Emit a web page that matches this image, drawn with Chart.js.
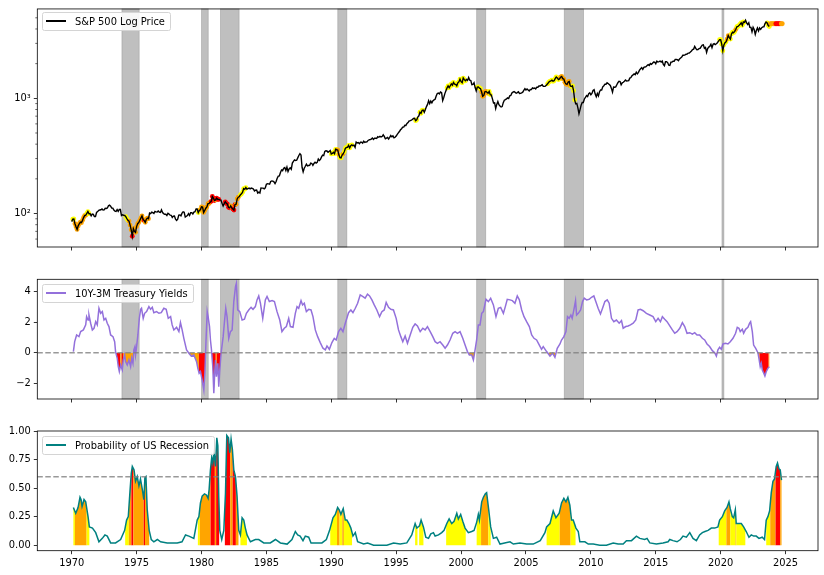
<!DOCTYPE html>
<html>
<head>
<meta charset="utf-8">
<script src="https://cdn.jsdelivr.net/npm/chart.js@4"></script>
<style>
body { margin: 0; background: #fff; width: 824px; height: 575px; position: relative; overflow: hidden; font-family: "DejaVu Sans", sans-serif; }
canvas { position: absolute; left: 0; }
.leg { position: absolute; left: 42px; height: 18.5px; box-sizing: border-box; border: 1px solid #d4d4d4; border-radius: 2.5px;
       background: rgba(255,255,255,0.85); display: flex; align-items: center; padding: 0 5px 0 3px; font-size: 9.9px; white-space: nowrap; color: #000; }
.leg i { display: inline-block; width: 20px; height: 0; border-top: 2px solid; margin-right: 9px; }
</style>
</head>
<body>
<canvas id="c1" width="824" height="262" style="top:0"></canvas>
<canvas id="c2" width="824" height="140" style="top:270px"></canvas>
<canvas id="c3" width="824" height="155" style="top:420px"></canvas>
<div class="leg" style="top:12px"><i style="border-color:#000"></i>S&amp;P 500 Log Price</div>
<div class="leg" style="top:284px"><i style="border-color:#9370db"></i>10Y-3M Treasury Yields</div>
<div class="leg" style="top:436px"><i style="border-color:#008080"></i>Probability of US Recession</div>
<script>
// S&P 500 month-end closes, Jan 1970 .. Oct 2023 (one per month)
const spxClose = [
85.0,89.5,89.6,81.5,76.6,72.7,78.1,81.5,84.2,83.3,87.2,92.2,
95.9,96.8,100.3,104.0,99.6,99.7,95.6,99.0,98.3,94.2,94.0,102.1,
103.9,106.6,107.2,107.7,109.5,107.1,107.4,111.1,110.6,111.6,116.7,118.1,
116.0,111.7,111.5,107.0,105.0,104.3,108.2,104.3,108.4,108.3,96.0,97.6,
96.6,96.2,94.0,90.3,87.3,86.0,79.3,72.2,63.5,73.9,70.0,68.6,
77.0,81.6,83.4,87.3,91.2,95.2,88.8,86.9,83.9,89.0,91.2,90.2,
100.9,99.7,102.8,101.6,100.2,104.3,103.4,102.9,105.2,102.9,102.1,107.5,
102.0,99.8,98.4,98.4,96.1,100.5,98.9,96.8,96.5,92.3,94.8,95.1,
89.3,87.0,89.2,96.8,97.2,95.5,100.7,103.3,102.5,93.2,94.7,96.1,
99.9,96.3,101.6,101.8,99.1,102.9,103.8,109.3,109.3,101.8,106.2,107.9,
114.2,113.7,102.1,106.3,111.2,114.2,121.7,122.4,125.5,127.5,140.5,135.8,
129.6,131.3,136.0,132.8,132.6,131.2,130.9,122.8,116.2,121.9,126.4,122.6,
120.4,113.1,112.0,116.4,111.9,109.6,107.1,119.5,120.4,133.7,138.5,140.6,
145.3,148.1,153.0,164.4,162.4,168.1,162.6,164.4,166.1,163.6,166.4,164.9,
163.4,157.1,159.2,160.1,150.6,153.2,150.7,166.7,166.1,166.1,163.6,167.2,
179.6,181.2,180.7,179.8,189.6,191.9,190.9,188.6,182.1,189.8,202.2,211.3,
211.8,226.9,238.9,235.5,247.4,250.8,236.1,252.9,231.3,244.0,249.2,242.2,
274,284,292,288,290,304,319,330,322,252,230,247,
257,268,259,261,262,274,272,262,272,279,274,278,
297,289,295,310,321,318,346,351,349,340,346,353,
329,332,340,331,361,358,356,323,306,304,322,330,
344,367,375,375,390,371,388,395,388,392,375,417,
409,413,404,415,415,408,424,414,418,419,431,436,
439,443,452,440,450,451,448,464,459,468,462,466,
482,467,446,451,457,444,458,475,463,472,454,459,
470,487,501,515,533,545,562,562,584,582,605,616,
636,640,646,654,669,671,640,652,687,705,757,741,
786,791,757,801,848,885,954,899,947,915,955,970,
980,1049,1102,1112,1091,1134,1121,957,1017,1099,1164,1229,
1280,1238,1286,1335,1302,1373,1329,1320,1283,1363,1389,1469,
1394,1366,1499,1452,1421,1455,1431,1518,1437,1429,1315,1320,
1366,1240,1160,1249,1256,1224,1211,1134,1041,1060,1139,1148,
1130,1107,1147,1077,1067,990,912,916,815,886,936,880,
856,841,848,917,964,975,990,1008,996,1051,1058,1112,
1131,1145,1126,1107,1121,1141,1102,1104,1115,1130,1174,1212,
1181,1204,1181,1157,1192,1191,1234,1220,1229,1207,1249,1248,
1280,1281,1295,1311,1270,1270,1277,1304,1336,1378,1401,1418,
1438,1407,1421,1482,1531,1503,1455,1474,1527,1549,1481,1468,
1379,1331,1323,1386,1400,1280,1267,1283,1166,969,896,903,
826,735,798,873,919,919,987,1021,1057,1036,1096,1115,
1074,1104,1169,1187,1089,1031,1102,1049,1141,1183,1181,1258,
1286,1327,1326,1364,1345,1321,1292,1219,1131,1253,1247,1258,
1312,1366,1408,1398,1310,1362,1379,1407,1441,1412,1416,1426,
1498,1515,1569,1598,1631,1606,1686,1633,1682,1757,1806,1848,
1783,1859,1872,1884,1924,1960,1931,2003,1972,2018,2068,2059,
1995,2105,2068,2086,2107,2063,2104,1972,1920,2079,2080,2044,
1940,1932,2060,2065,2097,2099,2174,2171,2168,2126,2199,2239,
2279,2364,2363,2384,2412,2423,2470,2472,2519,2575,2648,2674,
2824,2714,2641,2648,2705,2718,2816,2902,2914,2712,2760,2507,
2704,2784,2834,2946,2752,2942,2980,2926,2977,3038,3141,3231,
3226,2954,2585,2912,3044,3100,3271,3500,3363,3270,3622,3756,
3714,3811,3973,4181,4204,4298,4395,4523,4308,4605,4567,4766,
4516,4374,4530,4132,4132,3785,4130,3955,3586,3872,4080,3840,
4077,3970,4109,4169,4180,4450,4589,4508,4288,4194
];
const spxFirstYear = 1970;

// marker tail after the last close (flat level)
const tailYear = [2023.83,2023.92,2024.0,2024.08,2024.17,2024.25,2024.33,2024.42,2024.5,2024.58,2024.67,2024.75];
const tailPrice = [4440,4440,4440,4440,4440,4440,4440,4440,4440,4440,4440,4440];

// NBER recessions
const recStart = [1973.87, 1980.0, 1981.46, 1990.5, 2001.2, 2007.95, 2020.1];
const recEnd   = [1975.2, 1980.52, 1982.9, 1991.2, 2001.9, 2009.44, 2020.25];

// 10Y-3M spread
const spreadYear = [
1970.13,1970.23,1970.38,1970.56,1970.69,1970.9,1971.08,1971.15,1971.26,1971.33,1971.46,1971.59,1971.72,1971.85,1971.97,
1972.1,1972.23,1972.36,1972.49,1972.62,1972.74,1972.87,1973.0,1973.18,1973.31,1973.38,1973.51,1973.59,1973.67,1973.77,
1973.9,1973.97,1974.08,1974.15,1974.28,1974.41,1974.54,1974.62,1974.72,1974.79,1974.87,1974.92,1975.0,1975.1,1975.21,
1975.31,1975.38,1975.51,1975.62,1975.77,1975.95,1976.08,1976.21,1976.33,1976.54,1976.72,1976.9,1977.1,1977.28,1977.44,
1977.62,1977.74,1977.87,1978.08,1978.26,1978.38,1978.51,1978.64,1978.85,1979.03,1979.21,1979.41,1979.62,1979.72,1979.82,
1979.92,1980.05,1980.18,1980.26,1980.36,1980.44,1980.51,1980.62,1980.69,1980.77,1980.87,1980.95,1981.03,1981.08,1981.15,
1981.26,1981.33,1981.41,1981.51,1981.67,1981.77,1981.87,1981.97,1982.1,1982.23,1982.36,1982.49,1982.62,1982.69,1982.79,
1982.95,1983.13,1983.31,1983.46,1983.64,1983.82,1983.97,1984.15,1984.28,1984.41,1984.54,1984.72,1984.92,1985.05,1985.23,
1985.44,1985.62,1985.82,1986.03,1986.2,1986.38,1986.54,1986.72,1986.85,1987.05,1987.23,1987.36,1987.49,1987.67,1987.79,
1987.92,1988.08,1988.26,1988.44,1988.59,1988.77,1988.95,1989.15,1989.36,1989.54,1989.67,1989.85,1990.05,1990.23,1990.38,
1990.56,1990.74,1990.9,1991.08,1991.33,1991.51,1991.67,1991.85,1992.03,1992.23,1992.44,1992.61,1992.79,1992.95,1993.13,
1993.31,1993.51,1993.72,1993.9,1994.08,1994.23,1994.41,1994.59,1994.79,1995.0,1995.18,1995.36,1995.51,1995.69,1995.87,
1996.08,1996.28,1996.46,1996.64,1996.85,1997.05,1997.23,1997.41,1997.62,1997.82,1998.0,1998.18,1998.38,1998.59,1998.77,
1998.95,1999.15,1999.36,1999.54,1999.72,1999.92,2000.13,2000.31,2000.49,2000.64,2000.82,2000.95,2001.08,2001.2,2001.33,
2001.46,2001.59,2001.72,2001.92,2002.1,2002.28,2002.49,2002.69,2002.87,2003.05,2003.26,2003.41,2003.56,2003.77,2003.95,
2004.15,2004.33,2004.49,2004.67,2004.85,2005.05,2005.26,2005.44,2005.62,2005.82,2006.03,2006.2,2006.33,2006.59,2006.85,
2007.05,2007.23,2007.41,2007.62,2007.74,2007.92,2008.08,2008.2,2008.33,2008.46,2008.56,2008.69,2008.82,2008.9,2009.03,
2009.21,2009.36,2009.49,2009.67,2009.87,2010.05,2010.23,2010.38,2010.56,2010.74,2010.9,2011.08,2011.26,2011.41,2011.59,
2011.77,2011.97,2012.18,2012.36,2012.49,2012.69,2012.87,2013.05,2013.26,2013.46,2013.64,2013.82,2014.03,2014.28,2014.54,
2014.79,2015.0,2015.18,2015.36,2015.51,2015.69,2015.87,2016.08,2016.28,2016.46,2016.64,2016.85,2017.05,2017.23,2017.41,
2017.62,2017.82,2018.0,2018.18,2018.38,2018.59,2018.77,2018.95,2019.15,2019.36,2019.54,2019.67,2019.79,2019.92,2020.05,
2020.18,2020.38,2020.56,2020.74,2020.95,2021.15,2021.28,2021.41,2021.51,2021.67,2021.77,2021.92,2022.1,2022.23,2022.31,
2022.44,2022.54,2022.69,2022.87,2022.95,2023.05,2023.13,2023.21,2023.33,2023.41,2023.51,2023.64,2023.75
];
const spreadValue = [
0.07,0.72,1.16,1.05,1.38,1.49,1.82,2.36,2.14,2.47,1.93,1.49,1.6,2.03,1.82,
2.91,2.58,2.69,2.14,2.25,1.93,1.71,1.16,1.05,0.72,0.07,-0.37,-0.91,-1.24,-0.81,
-1.13,-0.48,-0.15,-0.59,-0.81,-0.48,-0.91,-0.37,-0.7,0.18,0.39,-0.15,0.39,1.16,2.25,
2.84,2.91,2.25,2.58,2.69,3.02,2.84,2.97,2.62,2.69,2.58,2.62,2.91,2.84,2.25,
2.36,1.82,1.49,1.66,1.38,1.97,1.49,0.94,0.18,-0.04,-0.22,-0.15,-0.59,-1.03,-1.35,
-1.24,-1.79,-2.45,-1.35,1.05,2.69,2.36,1.71,0.83,0.18,-0.91,-2.66,-1.13,-0.48,-1.57,
-0.7,-2.23,-1.13,-0.04,1.05,2.03,2.91,2.36,0.94,1.38,1.49,3.35,4.33,4.55,2.8,
2.69,2.14,2.19,2.58,2.8,2.97,2.84,3.02,3.46,3.72,3.24,2.25,3.46,3.68,3.35,
3.41,3.35,2.69,2.14,1.38,1.6,1.71,2.25,1.71,1.66,2.58,3.02,2.91,3.41,3.13,
3.24,2.69,2.84,2.8,2.36,1.49,1.05,0.66,0.29,0.18,0.44,0.22,0.66,0.94,0.83,
1.38,1.6,1.38,1.93,2.62,2.8,2.62,2.91,3.24,3.79,3.68,3.57,3.83,3.72,3.46,
3.13,2.8,2.36,2.69,2.8,3.29,2.97,2.84,2.8,2.25,1.49,1.05,0.72,1.09,0.61,
1.16,1.66,1.88,1.75,1.38,1.6,1.49,1.71,1.38,1.05,0.72,0.61,0.72,0.5,0.29,
0.5,0.83,1.27,1.38,1.27,1.38,0.94,0.5,0.07,-0.15,-0.15,-0.48,0.18,0.83,1.82,
1.82,2.58,2.69,3.5,3.35,3.57,3.13,2.36,2.91,2.97,2.58,3.02,3.5,3.46,3.41,
3.24,3.72,3.46,2.8,2.36,2.03,1.71,1.16,0.94,0.83,0.5,0.22,0.4,0.07,-0.22,
-0.04,-0.31,0.29,0.57,0.83,1.05,1.38,2.36,2.25,2.47,2.25,2.8,3.41,2.47,2.58,
2.8,3.35,3.57,3.46,3.5,3.63,3.72,3.35,2.91,2.54,2.91,3.35,3.46,3.24,2.25,
2.03,2.14,1.93,2.1,1.6,1.71,1.75,1.82,1.93,2.14,2.8,2.84,2.75,2.58,2.47,
2.36,2.03,2.25,2.03,2.36,2.19,2.03,1.75,1.49,1.27,1.38,1.6,1.97,1.71,1.27,
1.31,1.22,1.31,1.16,1.16,0.94,0.83,0.57,0.4,0.13,0.0,-0.22,0.18,0.35,0.22,
0.57,0.61,0.57,0.72,0.94,1.27,1.66,1.6,1.38,1.53,1.27,1.53,1.66,1.93,2.03,
1.38,0.5,0.29,0.0,-0.37,-0.92,-0.7,-1.14,-1.36,-1.53,-1.25,-1.03,-0.92
];

// Recession probability
const probYear = [
1970.13,1970.31,1970.49,1970.64,1970.72,1970.8,1970.95,1971.08,1971.26,1971.36,1971.6,1971.85,1972.1,1972.36,1972.56,
1972.74,1973.0,1973.38,1973.77,1974.08,1974.23,1974.36,1974.49,1974.59,1974.67,1974.8,1974.92,1975.05,1975.18,1975.3,
1975.44,1975.56,1975.64,1975.72,1975.82,1975.97,1976.13,1976.33,1976.6,1976.85,1977.36,1978.13,1978.5,1978.77,1979.03,
1979.41,1979.67,1979.8,1979.92,1980.05,1980.23,1980.38,1980.51,1980.59,1980.69,1980.79,1980.87,1980.97,1981.08,1981.18,
1981.26,1981.33,1981.41,1981.56,1981.72,1981.85,1981.95,1982.08,1982.18,1982.28,1982.38,1982.49,1982.62,1982.74,1982.87,
1983.0,1983.13,1983.26,1983.38,1983.51,1983.77,1984.15,1984.41,1984.8,1985.3,1985.7,1986.08,1986.6,1986.97,1987.23,
1987.41,1987.6,1987.82,1988.0,1988.26,1988.44,1988.9,1989.28,1989.62,1989.87,1990.13,1990.31,1990.49,1990.61,1990.74,
1990.92,1991.08,1991.2,1991.36,1991.51,1991.67,1991.85,1992.03,1992.49,1992.8,1993.26,1994.28,1994.8,1995.31,1995.82,
1996.2,1996.46,1996.59,1996.8,1996.92,1997.1,1997.28,1997.49,1997.67,1997.87,1998.0,1998.26,1998.51,1998.69,1998.9,
1999.08,1999.28,1999.46,1999.67,1999.79,1999.97,2000.13,2000.31,2000.56,2000.82,2001.0,2001.2,2001.33,2001.41,2001.59,
2001.72,2001.87,2001.97,2002.13,2002.28,2002.49,2002.74,2003.0,2003.77,2004.03,2004.54,2005.05,2005.56,2006.1,2006.46,
2006.59,2006.85,2007.1,2007.31,2007.56,2007.74,2007.92,2008.08,2008.23,2008.38,2008.51,2008.64,2008.85,2009.03,2009.15,
2009.54,2009.8,2010.18,2010.69,2011.2,2011.72,2012.1,2012.49,2012.74,2013.13,2013.51,2013.77,2014.15,2014.33,2014.54,
2015.05,2015.56,2015.95,2016.08,2016.33,2016.64,2016.9,2017.1,2017.36,2017.62,2017.87,2018.13,2018.38,2018.59,2018.79,
2019.03,2019.28,2019.54,2019.79,2019.92,2020.13,2020.31,2020.49,2020.64,2020.74,2020.9,2021.0,2021.13,2021.2,2021.41,
2021.59,2021.77,2021.97,2022.18,2022.36,2022.54,2022.74,2022.95,2023.2,2023.38,2023.51,2023.64,2023.77,2023.9,2024.03,
2024.15,2024.28,2024.38,2024.49,2024.59,2024.69
];
const probValue = [
0.33,0.28,0.33,0.42,0.40,0.34,0.40,0.38,0.25,0.16,0.15,0.11,0.03,0.06,0.09,
0.08,0.02,0.02,0.05,0.13,0.22,0.25,0.47,0.63,0.69,0.66,0.56,0.60,0.52,0.58,
0.49,0.40,0.59,0.60,0.31,0.13,0.05,0.03,0.05,0.03,0.02,0.02,0.03,0.09,0.08,
0.06,0.22,0.25,0.37,0.43,0.45,0.44,0.41,0.49,0.66,0.77,0.72,0.81,0.69,0.94,
0.87,0.43,0.13,0.05,0.13,0.46,0.96,0.94,0.81,0.93,0.84,0.66,0.60,0.43,0.13,
0.09,0.24,0.22,0.15,0.09,0.03,0.05,0.05,0.02,0.02,0.05,0.02,0.01,0.05,0.12,
0.09,0.08,0.04,0.08,0.07,0.02,0.02,0.02,0.05,0.13,0.24,0.27,0.33,0.31,0.27,
0.32,0.22,0.22,0.19,0.15,0.08,0.11,0.03,0.01,0.02,0.00,0.00,0.02,0.01,0.02,
0.09,0.19,0.15,0.17,0.22,0.16,0.07,0.06,0.10,0.11,0.08,0.09,0.11,0.13,0.19,
0.23,0.19,0.21,0.28,0.23,0.27,0.21,0.15,0.11,0.12,0.13,0.20,0.27,0.22,0.38,
0.42,0.45,0.46,0.31,0.16,0.06,0.07,0.01,0.03,0.01,0.02,0.01,0.01,0.04,0.11,
0.16,0.19,0.30,0.24,0.28,0.37,0.41,0.38,0.42,0.35,0.22,0.22,0.15,0.12,0.03,
0.03,0.01,0.01,0.00,0.00,0.02,0.01,0.01,0.04,0.04,0.08,0.06,0.05,0.06,0.02,
0.01,0.02,0.03,0.05,0.04,0.03,0.05,0.08,0.07,0.11,0.06,0.04,0.09,0.11,0.12,
0.13,0.15,0.15,0.16,0.22,0.25,0.30,0.33,0.38,0.32,0.25,0.24,0.31,0.19,0.19,
0.19,0.16,0.12,0.07,0.09,0.08,0.08,0.06,0.07,0.05,0.22,0.25,0.30,0.46,0.56,
0.58,0.69,0.72,0.67,0.66,0.57
];

// signal colour periods (1 yellow, 2 orange, 3 red) used for the price markers and probability fill
const sigStart = [1970.05,1970.25,1971.15, 1974.12,1974.4,1974.6,1974.75,1975.55,1975.65, 1979.72,1979.87,1980.7,1981.03,1981.13,
                  1981.8,1982.22,1982.4,1982.65, 1983.0, 1989.92,1990.44,1990.64,1990.85,1990.97, 1996.46,1996.77, 1998.85,
                  2001.2,2001.54,2002.1, 2006.59,2007.6,2008.44, 2019.85,2020.44,2020.74,2021.15,2021.2, 2023.51,2023.82,2024.23,2024.59];
const sigEnd   = [1970.25,1971.15,1971.36, 1974.4,1974.6,1974.75,1975.55,1975.65,1975.97, 1979.87,1980.7,1981.03,1981.13,1981.36,
                  1982.22,1982.4,1982.65,1982.85, 1983.5, 1990.44,1990.64,1990.85,1990.97,1991.6, 1996.64,1997.1, 2000.36,
                  2001.54,2002.1,2002.28, 2007.6,2008.44,2008.82, 2020.44,2020.74,2021.15,2021.2,2021.9, 2023.82,2024.23,2024.59,2024.8];
const sigLevel = [1,2,1, 1,2,3,2,3,2, 1,2,3,2,3, 3,2,3,2, 1, 1,2,1,2,1, 1,1, 1, 1,2,1, 1,2,1, 1,2,1,2,1, 1,2,3,2];

// inversion colour periods for the spread fill
const invStart = [1973.4,1973.75,1973.85,1973.97, 1978.95,1979.8, 1980.8,1981.1,1981.18, 2000.5, 2006.6, 2019.6, 2022.85,2023.0,2023.7];
const invEnd   = [1973.75,1973.85,1973.97,1974.95, 1979.8,1980.3, 1981.1,1981.18,1981.55, 2001.05, 2007.4, 2019.75, 2023.0,2023.7,2023.85];
const invLevel = [3,2,3,2, 2,3, 3,2,3, 2, 2, 2, 2,3,2];

const xTicks = [1970,1975,1980,1985,1990,1995,2000,2005,2010,2015,2020,2025];
const priceTicks = [100, 1000];
const priceMinor = [60,70,80,90,200,300,400,500,600,700,800,900,2000,3000,4000,5000];
const spreadTicks = [-2, 0, 2, 4];
const probTicks = [0, 0.25, 0.5, 0.75, 1.0];

const levelColor = [null, '#ffff00', '#ffa500', '#ff0000'];
const X_MIN = 1967.35, X_MAX = 2027.5;

Chart.defaults.font.family = '"DejaVu Sans"';
Chart.defaults.font.size = 9.9;
Chart.defaults.color = '#000';
Chart.defaults.animation = false;

function levelAt(t) {
    for (let i = 0; i < sigStart.length; i++) {
        if (t >= sigStart[i] && t < sigEnd[i]) return sigLevel[i];
    }
    return 0;
}

const spxPts = spxClose.map((v, i) => ({x: spxFirstYear + i / 12, y: v}));
const markerPts = [], markerCols = [];
spxPts.forEach(p => {
    const l = levelAt(p.x);
    if (l) { markerPts.push(p); markerCols.push(levelColor[l]); }
});
tailYear.forEach((t, i) => {
    const l = levelAt(t) || 3;
    markerPts.push({x: t, y: tailPrice[i]});
    markerCols.push(levelColor[l]);
});

function xAxis(showLabels, h) {
    return {
        type: 'linear', min: X_MIN, max: X_MAX,
        border: {display: false},
        grid: {drawOnChartArea: false, tickLength: 3.5, color: '#000', tickWidth: 0.8},
        ticks: {display: showLabels, padding: 3, maxRotation: 0, autoSkip: false, callback: v => String(v)},
        afterBuildTicks: s => { s.ticks = xTicks.map(v => ({value: v})); },
        afterFit: s => { s.height = h; }
    };
}

function yAxis(extra, ticks, fmt) {
    return Object.assign({
        border: {display: false},
        grid: {drawOnChartArea: false, tickLength: 3.5, color: '#000', tickWidth: 0.8},
        ticks: {padding: 3, autoSkip: false, callback: fmt},
        afterBuildTicks: s => { s.ticks = ticks.map(v => ({value: v})); },
        afterFit: s => { s.width = 37.3; }
    }, extra);
}

const frame = {
    id: 'frame',
    afterDraw(chart) {
        const {ctx, chartArea: a} = chart;
        ctx.save();
        ctx.strokeStyle = '#000';
        ctx.lineWidth = 0.8;
        ctx.strokeRect(a.left, a.top, a.right - a.left, a.bottom - a.top);
        ctx.restore();
    }
};

const recessionShade = {
    id: 'recessionShade',
    beforeDatasetsDraw(chart) {
        const {ctx, chartArea: a, scales: {x}} = chart;
        ctx.save();
        ctx.fillStyle = 'rgba(128,128,128,0.5)';
        ctx.strokeStyle = 'rgba(128,128,128,0.45)';
        ctx.lineWidth = 0.8;
        recStart.forEach((s, i) => {
            const l = x.getPixelForValue(s), r = x.getPixelForValue(recEnd[i]);
            ctx.fillRect(l, a.top, r - l, a.bottom - a.top);
            ctx.strokeRect(l, a.top, r - l, a.bottom - a.top);
        });
        ctx.restore();
    }
};

function bandFill(xs, ys, starts, ends, levels, belowZero) {
    return {
        id: 'bandFill',
        beforeDatasetsDraw(chart) {
            const {ctx, chartArea: a, scales: {x, y}} = chart;
            const y0 = y.getPixelForValue(0);
            ctx.save();
            ctx.beginPath();
            ctx.rect(a.left, a.top, a.right - a.left, a.bottom - a.top);
            ctx.clip();
            if (belowZero) {
                ctx.beginPath();
                ctx.rect(a.left, y0, a.right - a.left, a.bottom - y0);
                ctx.clip();
            }
            ctx.beginPath();
            ctx.moveTo(x.getPixelForValue(xs[0]), y0);
            xs.forEach((v, i) => ctx.lineTo(x.getPixelForValue(v), y.getPixelForValue(ys[i])));
            ctx.lineTo(x.getPixelForValue(xs[xs.length - 1]), y0);
            ctx.closePath();
            ctx.clip();
            starts.forEach((s, i) => {
                const l = x.getPixelForValue(s), r = x.getPixelForValue(ends[i]);
                ctx.fillStyle = levelColor[levels[i]];
                ctx.fillRect(l, a.top, r - l, a.bottom - a.top);
            });
            ctx.restore();
        }
    };
}

const logMinor = {
    id: 'logMinor',
    afterDraw(chart) {
        const {ctx, chartArea: a, scales: {y}} = chart;
        ctx.save();
        ctx.strokeStyle = '#000';
        ctx.lineWidth = 0.6;
        priceMinor.forEach(v => {
            const py = y.getPixelForValue(v);
            ctx.beginPath();
            ctx.moveTo(a.left - 2, py);
            ctx.lineTo(a.left, py);
            ctx.stroke();
        });
        ctx.restore();
    }
};

function dashed(level) {
    return {
        data: [{x: X_MIN, y: level}, {x: X_MAX, y: level}],
        borderColor: 'rgba(128,128,128,0.8)', borderWidth: 1.5, borderDash: [5.5, 2.5],
        pointRadius: 0, order: 0
    };
}

const common = {
    responsive: false,
    devicePixelRatio: 1,
    plugins: {legend: {display: false}, tooltip: {enabled: false}},
    elements: {line: {tension: 0}}
};

// top: price
new Chart(document.getElementById('c1'), {
    type: 'line',
    data: {datasets: [
        {data: spxPts, borderColor: '#000', borderWidth: 1.4, pointRadius: 0, order: 0},
        {data: markerPts, showLine: false, pointRadius: 2.4, pointBorderWidth: 0,
         pointBackgroundColor: markerCols, order: 1}
    ]},
    options: Object.assign({}, common, {
        layout: {padding: {top: 7.3, right: 6, left: 0, bottom: 0}},
        scales: {
            x: xAxis(false, 15),
            y: yAxis({type: 'logarithmic', min: 51.2, max: 5970}, priceTicks, v => v === 100 ? '10²' : '10³')
        }
    }),
    plugins: [recessionShade, frame, logMinor]
});

// middle: spread
new Chart(document.getElementById('c2'), {
    type: 'line',
    data: {datasets: [
        {data: spreadYear.map((t, i) => ({x: t, y: spreadValue[i]})), borderColor: '#9370db', borderWidth: 1.5, pointRadius: 0, order: 1},
        dashed(0)
    ]},
    options: Object.assign({}, common, {
        layout: {padding: {top: 9.3, right: 6, left: 0, bottom: 0}},
        scales: {
            x: xAxis(false, 11),
            y: yAxis({type: 'linear', min: -3.04, max: 4.81}, spreadTicks, v => v < 0 ? '\u2212' + Math.abs(v) : String(v))
        }
    }),
    plugins: [recessionShade, bandFill(spreadYear, spreadValue, invStart, invEnd, invLevel, true), frame]
});

// bottom: probability
new Chart(document.getElementById('c3'), {
    type: 'line',
    data: {datasets: [
        {data: probYear.map((t, i) => ({x: t, y: probValue[i]})), borderColor: '#008080', borderWidth: 1.5, pointRadius: 0, order: 1},
        dashed(0.6)
    ]},
    options: Object.assign({}, common, {
        layout: {padding: {top: 11, right: 6, left: 0, bottom: 0}},
        scales: {
            x: xAxis(true, 24.3),
            y: yAxis({type: 'linear', min: -0.048, max: 1.0}, probTicks, v => v.toFixed(2))
        }
    }),
    plugins: [bandFill(probYear, probValue, sigStart, sigEnd, sigLevel, false), frame]
});
</script>
</body>
</html>
